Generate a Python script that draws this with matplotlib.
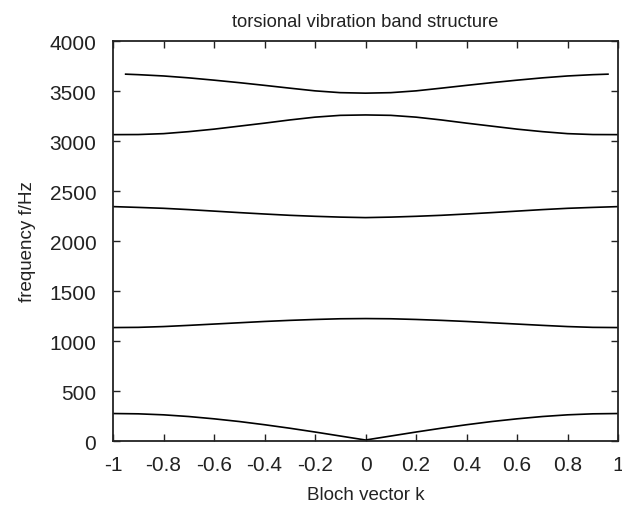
import matplotlib
matplotlib.use("Agg")
import matplotlib.pyplot as plt

plt.rcParams['font.family'] = ['Liberation Sans', 'DejaVu Sans']

# Bloch vector grid
k = [-1.0, -0.9, -0.8, -0.7, -0.6, -0.5, -0.4, -0.3, -0.2, -0.1, 0.0,
     0.1, 0.2, 0.3, 0.4, 0.5, 0.6, 0.7, 0.8, 0.9, 1.0]
# top band stops just short of the zone edge
k_top = [-0.95, -0.9, -0.8, -0.7, -0.6, -0.5, -0.4, -0.3, -0.2, -0.1, 0.0,
         0.1, 0.2, 0.3, 0.4, 0.5, 0.6, 0.7, 0.8, 0.9, 0.96]

band1 = [275, 272, 262, 245, 222, 195, 163, 128, 90, 50, 10,
         50, 90, 128, 163, 195, 222, 245, 262, 272, 275]
band2 = [1135, 1137, 1145, 1157, 1170, 1183, 1196, 1207, 1216, 1223, 1225,
         1223, 1216, 1207, 1196, 1183, 1170, 1157, 1145, 1137, 1135]
band3 = [2345, 2337, 2328, 2315, 2300, 2285, 2271, 2258, 2248, 2240, 2235,
         2240, 2248, 2258, 2271, 2285, 2300, 2315, 2328, 2337, 2345]
band4 = [3065, 3066, 3075, 3095, 3120, 3150, 3180, 3212, 3240, 3258, 3262,
         3258, 3240, 3212, 3180, 3150, 3120, 3095, 3075, 3066, 3065]
band5 = [3670, 3665, 3652, 3633, 3610, 3585, 3558, 3530, 3503, 3485, 3480,
         3485, 3503, 3530, 3558, 3585, 3610, 3633, 3652, 3665, 3670]

xticks = [-1, -0.8, -0.6, -0.4, -0.2, 0, 0.2, 0.4, 0.6, 0.8, 1]
xticklabels = ['-1', '-0.8', '-0.6', '-0.4', '-0.2', '0', '0.2', '0.4', '0.6', '0.8', '1']
yticks = [0, 500, 1000, 1500, 2000, 2500, 3000, 3500, 4000]

fig = plt.figure(figsize=(6.22, 5.10), dpi=100)
ax = fig.add_axes([0.1817, 0.1333, 0.812, 0.784])

for b in [band1, band2, band3, band4]:
    ax.plot(k, b, color='black', lw=1.2)
ax.plot(k_top, band5, color='black', lw=1.2)

ax.set_xlim(-1, 1)
ax.set_ylim(0, 4000)
ax.set_xticks(xticks)
ax.set_xticklabels(xticklabels)
ax.set_yticks(yticks)
ax.tick_params(direction='in', top=True, right=True, length=5, width=1,
               labelsize=15, colors='#222222')
ax.tick_params(axis='x', pad=10)
ax.tick_params(axis='y', pad=12)
for s in ax.spines.values():
    s.set_linewidth(1.3)
    s.set_color('#222222')

ax.set_title('torsional vibration band structure', fontsize=13.2, pad=11,
             color='#222222')
ax.set_xlabel('Bloch vector k', fontsize=13.5, labelpad=9, color='#222222')
ax.set_ylabel('frequency f/Hz', fontsize=13.5, labelpad=10, color='#222222')

fig.savefig('out.png', dpi=100)
